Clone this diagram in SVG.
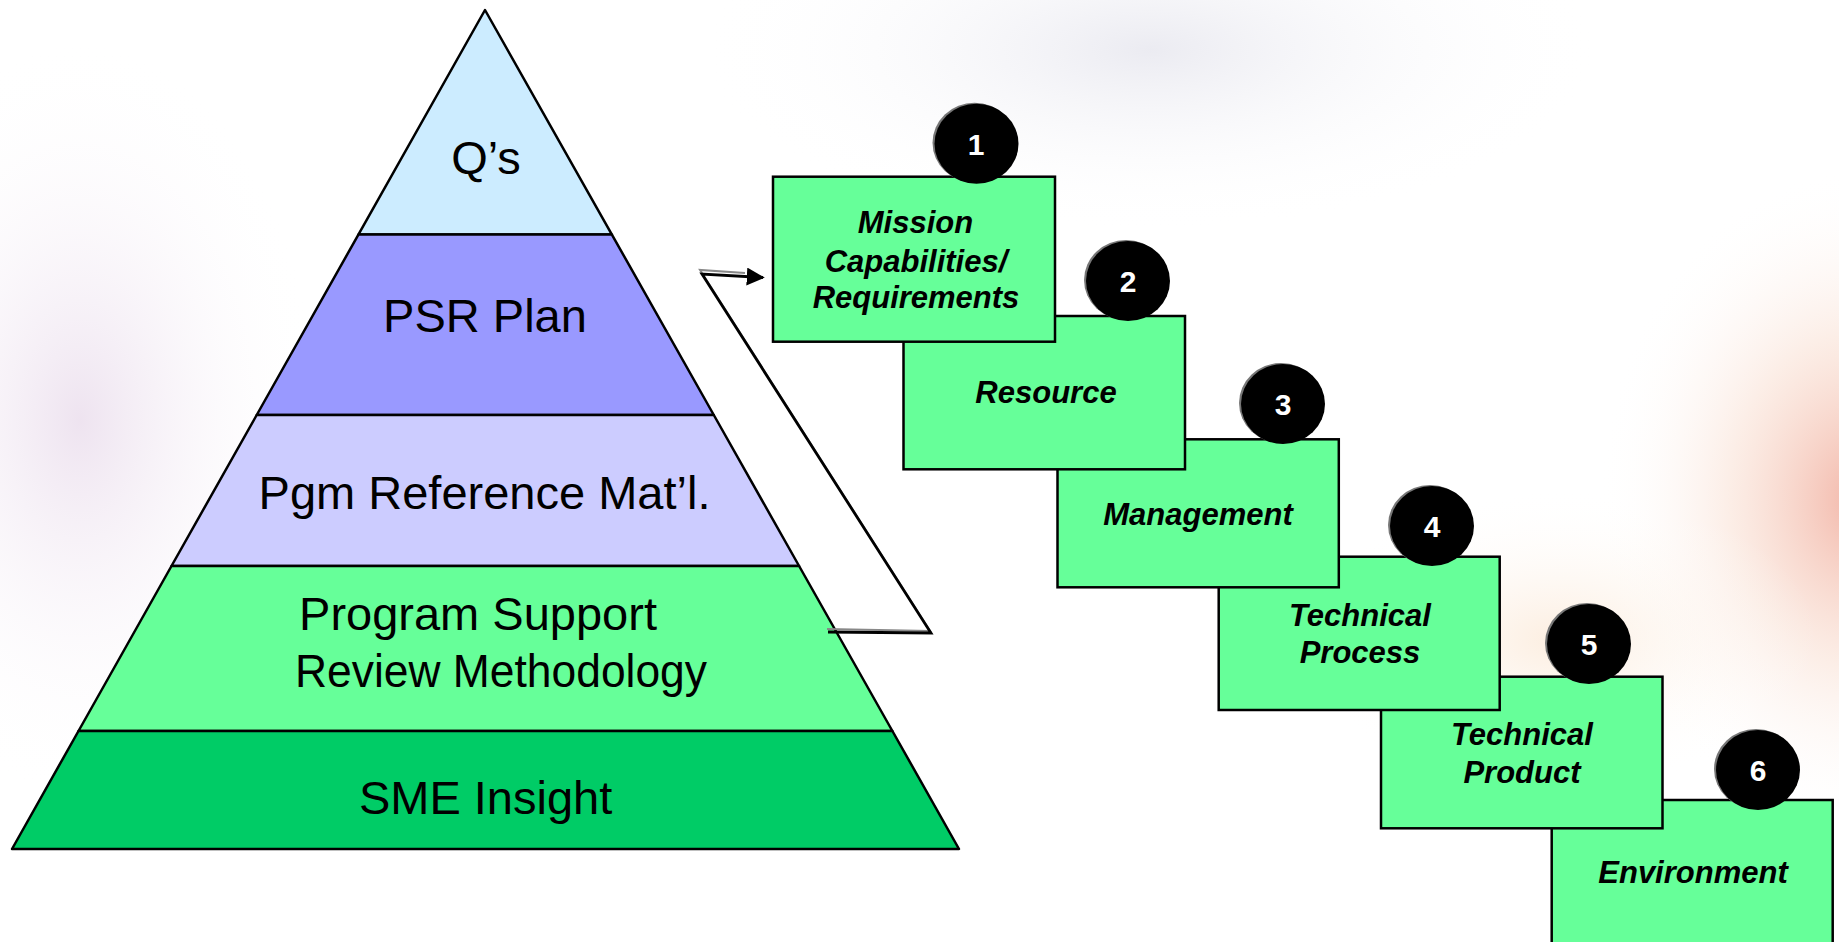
<svg xmlns="http://www.w3.org/2000/svg" width="1839" height="942" viewBox="0 0 1839 942">
<defs>
<radialGradient id="bgL" cx="0.5" cy="0.5" r="0.5">
<stop offset="0" stop-color="#ece0ee" stop-opacity="0.9"/>
<stop offset="1" stop-color="#ffffff" stop-opacity="0"/>
</radialGradient>
<radialGradient id="bgR" cx="0.5" cy="0.5" r="0.5">
<stop offset="0" stop-color="#f0a898" stop-opacity="0.85"/>
<stop offset="0.5" stop-color="#f8d8c8" stop-opacity="0.45"/>
<stop offset="1" stop-color="#ffffff" stop-opacity="0"/>
</radialGradient>
<radialGradient id="bgO" cx="0.5" cy="0.5" r="0.5">
<stop offset="0" stop-color="#fbe6d2" stop-opacity="0.7"/>
<stop offset="1" stop-color="#ffffff" stop-opacity="0"/>
</radialGradient>
<radialGradient id="bgT" cx="0.5" cy="0.5" r="0.5">
<stop offset="0" stop-color="#e6e6ee" stop-opacity="0.8"/>
<stop offset="1" stop-color="#ffffff" stop-opacity="0"/>
</radialGradient>
<marker id="arr" viewBox="0 0 10 10" refX="9" refY="5" markerWidth="18" markerHeight="18" markerUnits="userSpaceOnUse" orient="auto">
<path d="M0,0 L10,5 L0,10 Z" fill="#000"/>
</marker>
</defs>
<style>
.layer{stroke:#000;stroke-width:2.5;stroke-linejoin:round}
.ptxt{font-family:"Liberation Sans",Arial,sans-serif;font-size:47px;fill:#000;text-anchor:middle}
.box{fill:#66ff99;stroke:#000;stroke-width:2.5}
.btxt{font-family:"Liberation Sans",Arial,sans-serif;font-size:31px;font-weight:bold;font-style:italic;fill:#000;text-anchor:middle}
.badge{fill:#000}
.badgesh{fill:#777}
.num{font-family:"Liberation Sans",Arial,sans-serif;font-size:30px;font-weight:bold;fill:#fff;text-anchor:middle}
.conn{fill:none;stroke:#000;stroke-width:2.8;stroke-linejoin:miter}
.connsh{fill:none;stroke:#888;stroke-width:2}
</style>
<rect x="0" y="0" width="1839" height="942" fill="#ffffff"/>
<ellipse cx="80" cy="420" rx="240" ry="380" fill="url(#bgL)"/>
<ellipse cx="1860" cy="500" rx="260" ry="330" fill="url(#bgR)"/>
<ellipse cx="1560" cy="640" rx="260" ry="150" fill="url(#bgO)"/>
<ellipse cx="1150" cy="50" rx="450" ry="180" fill="url(#bgT)"/>

<g id="pyramid">
<g id="layer-qs">
<polygon class="layer" fill="#ccecff" points="485,10 611.9,234.6 358.4,234.6"/>
<text class="ptxt" x="486" y="174">Q’s</text>
</g>
<g id="layer-psr">
<polygon class="layer" fill="#9999ff" points="358.4,234.6 611.9,234.6 713.8,415 256.7,415"/>
<text class="ptxt" x="485" y="332">PSR Plan</text>
</g>
<g id="layer-pgm">
<polygon class="layer" fill="#ccccff" points="256.7,415 713.8,415 799.1,566 171.5,566"/>
<text class="ptxt" x="484.5" y="509">Pgm Reference Mat’l.</text>
</g>
<g id="layer-program">
<polygon class="layer" fill="#66ff99" points="171.5,566 799.1,566 892.4,731 78.5,731"/>
<text class="ptxt" x="478" y="630">Program Support</text>
<text class="ptxt" x="501" y="687" textLength="412" lengthAdjust="spacingAndGlyphs">Review Methodology</text>
</g>
<g id="layer-sme">
<polygon class="layer" fill="#00cc66" points="78.5,731 892.4,731 959,849 12,849"/>
<text class="ptxt" x="485.6" y="814">SME Insight</text>
</g>
</g>

<g id="connectors">
<polyline class="connsh" points="827,629 930,631 700,270 745,273"/>
<polyline class="conn" points="828,632 931,633 702,274 763,277.5" marker-end="url(#arr)"/>
</g>

<g id="step6">
<rect class="box" x="1551.7" y="800" width="281" height="160"/>
<text class="btxt" x="1693" y="883">Environment</text>
<ellipse class="badgesh" cx="1756" cy="769" rx="42" ry="40"/>
<ellipse class="badge" cx="1758" cy="770" rx="42" ry="40"/>
<text class="num" x="1758" y="781">6</text>
</g>
<g id="step5">
<rect class="box" x="1381" y="676.7" width="281.5" height="151.6"/>
<text class="btxt" x="1522" y="745">Technical</text>
<text class="btxt" x="1522" y="782.5">Product</text>
<ellipse class="badgesh" cx="1587" cy="643" rx="42" ry="40"/>
<ellipse class="badge" cx="1589" cy="644" rx="42" ry="40"/>
<text class="num" x="1589" y="655">5</text>
</g>
<g id="step4">
<rect class="box" x="1218.7" y="556.7" width="281" height="153.3"/>
<text class="btxt" x="1360" y="626">Technical</text>
<text class="btxt" x="1360" y="663.3">Process</text>
<ellipse class="badgesh" cx="1430" cy="525" rx="42" ry="40"/>
<ellipse class="badge" cx="1432" cy="526" rx="42" ry="40"/>
<text class="num" x="1432" y="537">4</text>
</g>
<g id="step3">
<rect class="box" x="1057.5" y="439.3" width="281.3" height="148"/>
<text class="btxt" x="1198" y="525">Management</text>
<ellipse class="badgesh" cx="1281" cy="403" rx="42" ry="40"/>
<ellipse class="badge" cx="1283" cy="404" rx="42" ry="40"/>
<text class="num" x="1283" y="415">3</text>
</g>
<g id="step2">
<rect class="box" x="903.5" y="316" width="281.5" height="153.3"/>
<text class="btxt" x="1046" y="403">Resource</text>
<ellipse class="badgesh" cx="1126" cy="280" rx="42" ry="40"/>
<ellipse class="badge" cx="1128" cy="281" rx="42" ry="40"/>
<text class="num" x="1128" y="292">2</text>
</g>
<g id="step1">
<rect class="box" x="773" y="176.7" width="282" height="165"/>
<text class="btxt" x="915.5" y="233.3">Mission</text>
<text class="btxt" x="916" y="271.7">Capabilities/</text>
<text class="btxt" x="916" y="308.3">Requirements</text>
<ellipse class="badgesh" cx="974.5" cy="142.7" rx="42" ry="40"/>
<ellipse class="badge" cx="976.5" cy="143.7" rx="42" ry="40"/>
<text class="num" x="976" y="155">1</text>
</g>
</svg>
